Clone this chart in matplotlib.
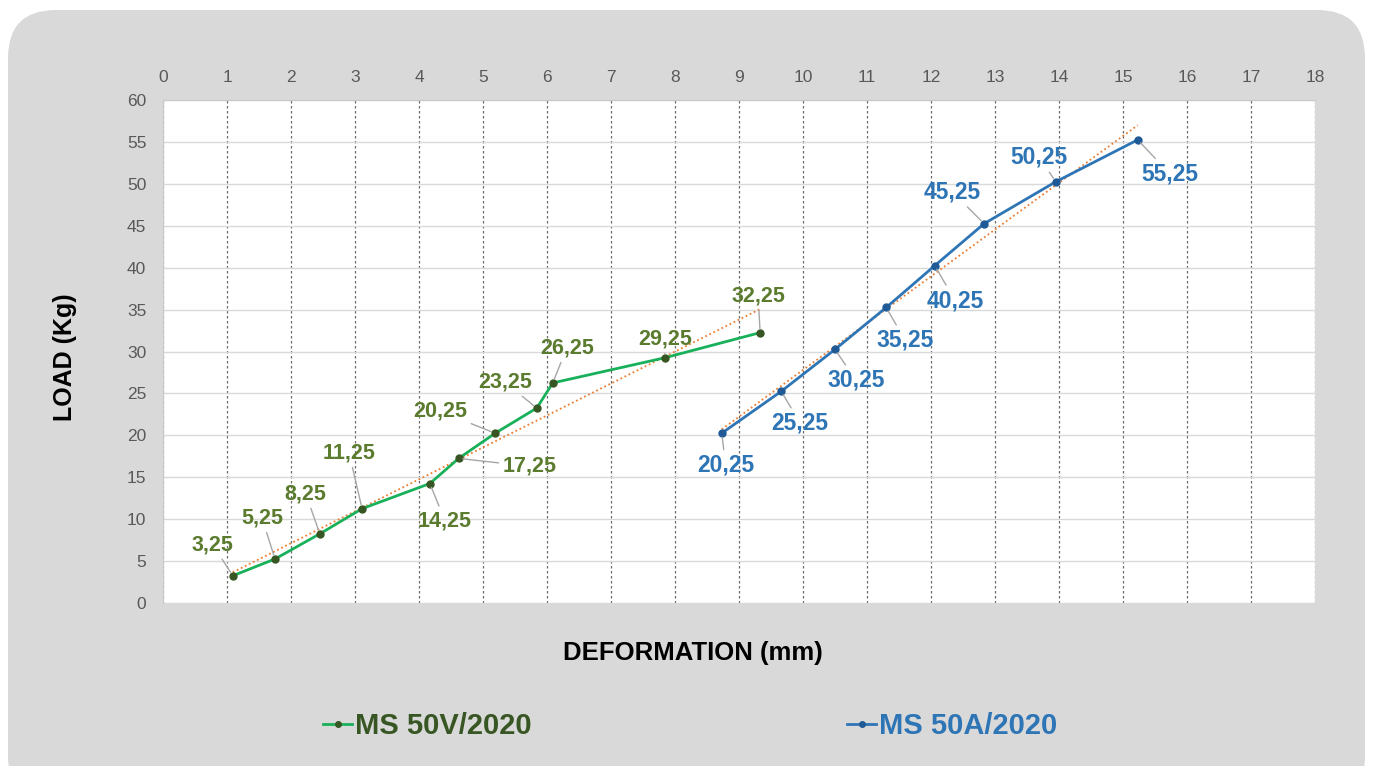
import matplotlib.pyplot as plt
import numpy as np
from matplotlib.patches import FancyBboxPatch

# data
green_x = [1.09, 1.75, 2.45, 3.11, 4.17, 4.62, 5.19, 5.84, 6.09, 7.84, 9.33]
green_y = [3.25, 5.25, 8.25, 11.25, 14.25, 17.25, 20.25, 23.25, 26.25, 29.25, 32.25]
blue_x = [8.73, 9.66, 10.50, 11.30, 12.06, 12.83, 13.95, 15.23]
blue_y = [20.25, 25.25, 30.25, 35.25, 40.25, 45.25, 50.25, 55.25]
green_name = "MS 50V/2020"
blue_name = "MS 50A/2020"
x_ticks = list(range(0, 19))
y_ticks = list(range(0, 61, 5))

# label offsets (pixels) relative to each point
green_offsets = [(-20, 31), (-13, 41), (-14, 40), (-13, 56), (15, -37), (71, -8),
                 (-55, 22), (-32, 26), (14, 35), (0, 19), (-2, 37)]
blue_offsets = [(4, -32), (19, -32), (21, -31), (19, -33), (20, -35),
                (-32, 32), (-17, 25), (32, -34)]

plt.rcParams['font.family'] = ['Liberation Sans', 'DejaVu Sans']

fig = plt.figure(figsize=(13.73, 7.66), dpi=100)
fig.patch.set_facecolor('white')

# grey rounded panel behind the chart
panel = FancyBboxPatch((8 / 1373, -0.05), 1357 / 1373, 1 - 10 / 766 + 0.05,
                       boxstyle="round,pad=0,rounding_size=0.035",
                       transform=fig.transFigure, facecolor='#d9d9d9',
                       edgecolor='none', zorder=-5, mutation_aspect=1373 / 766)
fig.patches.append(panel)

ax = fig.add_axes([163 / 1373, 1 - 603 / 766, 1152 / 1373, 503 / 766])
ax.set_zorder(1)
ax.set_facecolor('white')
ax.set_xlim(0, 18)
ax.set_ylim(0, 60)
ax.xaxis.tick_top()
ax.set_xticks(x_ticks)
ax.set_yticks(y_ticks)
ax.tick_params(length=0, labelsize=12.5, labelcolor='#595959')
ax.tick_params(axis='x', pad=11)
ax.tick_params(axis='y', pad=12)
for s in ['bottom', 'right']:
    ax.spines[s].set_visible(False)
for s in ['top', 'left']:
    ax.spines[s].set_color('#c8c8c8')
ax.grid(axis='y', color='#d9d9d9', lw=1, ls='-')
ax.grid(axis='x', color='#6a6a6a', lw=0.9, ls=(0, (2, 2)))
ax.set_axisbelow(True)

# trendlines
for xs, ys in [(green_x, green_y), (blue_x, blue_y)]:
    k, b = np.polyfit(xs, ys, 1)
    xx = np.array([xs[0], xs[-1]])
    ax.plot(xx, k * xx + b, ls=(0, (1, 1.5)), color='#ed7d31', lw=1.3, zorder=2)

g_line, = ax.plot(green_x, green_y, '-o', color='#19b05a', lw=2, ms=5,
                  mfc='#375623', mec='#375623', zorder=3, label=green_name)
b_line, = ax.plot(blue_x, blue_y, '-o', color='#2e75b6', lw=2, ms=5,
                  mfc='#1f5a96', mec='#1f5a96', zorder=3, label=blue_name)

def add_labels(xs, ys, offsets, color, size):
    for x, y, (dx, dy) in zip(xs, ys, offsets):
        ax.annotate(f"{y:.2f}".replace('.', ','), (x, y), xytext=(dx, dy),
                    textcoords='offset pixels', ha='center', va='center',
                    fontsize=size, fontweight='bold', color=color, zorder=4,
                    arrowprops=dict(arrowstyle='-', color='#a6a6a6', lw=1,
                                    shrinkA=1, shrinkB=3))

add_labels(green_x, green_y, green_offsets, '#5b7b2e', 15.5)
add_labels(blue_x, blue_y, blue_offsets, '#2e75b6', 16.5)

fig.text(65 / 1373, 1 - 357 / 766, "LOAD (Kg)", rotation=90, ha='center',
         va='center', fontsize=18, fontweight='bold', color='black')
fig.text(693 / 1373, 1 - 653 / 766, "DEFORMATION (mm)", ha='center',
         va='center', fontsize=18.5, fontweight='bold', color='black')

# legends
for line, xpos, tc in [(g_line, 323, '#375623'), (b_line, 847, '#2e75b6')]:
    leg = fig.legend(handles=[line], loc='center left',
                     bbox_to_anchor=(xpos / 1373, 1 - 726 / 766),
                     frameon=False, borderpad=0, borderaxespad=0,
                     handlelength=1.0, handletextpad=0.1, markerscale=0.8,
                     prop={'size': 21, 'weight': 'bold'})
    for t in leg.get_texts():
        t.set_color(tc)

fig.savefig('out.png', dpi=100, facecolor=fig.get_facecolor())
